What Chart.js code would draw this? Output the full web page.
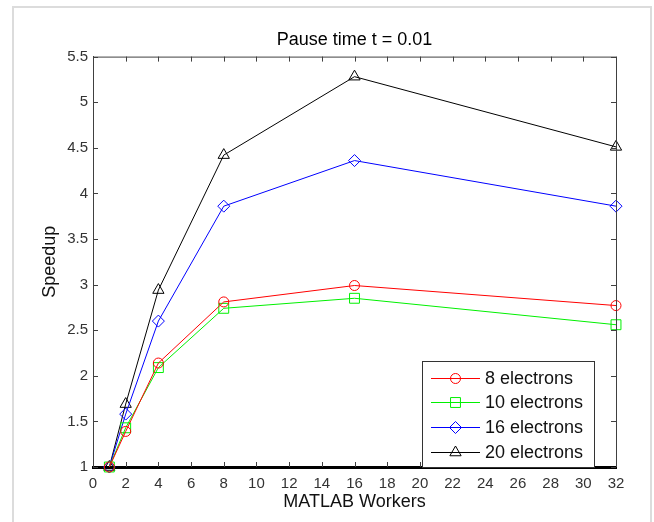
<!DOCTYPE html>
<html>
<head>
<meta charset="utf-8">
<script src="https://cdn.jsdelivr.net/npm/chart.js@4"></script>
<style>
    body { margin: 0; background: #fff; overflow: hidden; }
    #frame {
        position: absolute; left: 12px; top: 6px;
        width: 636px; height: 600px;
        border: 2px solid #dcdcdc;
    }
    #speedup { position: absolute; left: 0; top: 0; }
</style>
</head>
<body>
<div id="frame"></div>
<canvas id="speedup" width="654" height="522"></canvas>
<script>
const workers = [1, 2, 4, 8, 16, 32];
const electrons8 = [1, 1.39, 2.14, 2.81, 2.99, 2.77];
const electrons10 = [1, 1.43, 2.09, 2.74, 2.85, 2.56];
const electrons16 = [1, 1.58, 2.6, 3.86, 4.36, 3.86];
const electrons20 = [1, 1.69, 2.94, 4.42, 5.28, 4.51];
const seriesLabels = ['8 electrons', '10 electrons', '16 electrons', '20 electrons'];

const FONT = '"Liberation Sans", Arial, sans-serif';

function toPoints(values) {
    return workers.map((w, i) => ({ x: w, y: values[i] }));
}

function series(label, values, color, style, radius) {
    return {
        label: label,
        data: toPoints(values),
        borderColor: color,
        borderWidth: 1,
        pointStyle: style,
        pointRadius: radius,
        pointBorderColor: color,
        pointBackgroundColor: 'rgba(0,0,0,0)',
        pointBorderWidth: 1,
        tension: 0,
        clip: false
    };
}

// matlab style box: frame lines + ticks pointing inwards
const boxPlugin = {
    id: 'matlabBox',
    afterDatasetsDraw(chart) {
        const { ctx, chartArea: a, scales } = chart;
        ctx.save();
        ctx.strokeStyle = '#404040';
        ctx.lineWidth = 1;
        ctx.beginPath();
        ctx.moveTo(a.left, a.top + 0.5);
        ctx.lineTo(a.right + 0.5, a.top + 0.5);
        ctx.lineTo(a.right + 0.5, a.bottom);
        ctx.stroke();

        const len = 5;
        ctx.beginPath();
        scales.x.ticks.forEach(t => {
            const px = Math.round(scales.x.getPixelForValue(t.value)) + 0.5;
            ctx.moveTo(px, a.bottom);
            ctx.lineTo(px, a.bottom - len);
            ctx.moveTo(px, a.top);
            ctx.lineTo(px, a.top + len);
        });
        scales.y.ticks.forEach(t => {
            const py = Math.round(scales.y.getPixelForValue(t.value)) + 0.5;
            ctx.moveTo(a.left, py);
            ctx.lineTo(a.left + len, py);
            ctx.moveTo(a.right, py);
            ctx.lineTo(a.right - len, py);
        });
        ctx.stroke();
        ctx.restore();
    },
    afterDraw(chart) {
        // legend box in the lower right corner of the axes
        const { ctx, chartArea: a } = chart;
        const w = 172, h = 106;
        const left = a.right - 22 - w;
        const top = a.bottom - h;
        ctx.save();
        ctx.fillStyle = '#fff';
        ctx.fillRect(left, top, w, h);
        ctx.strokeStyle = '#333';
        ctx.lineWidth = 1;
        ctx.strokeRect(left + 0.5, top + 0.5, w, h);
        ctx.font = '18px ' + FONT;
        ctx.textBaseline = 'middle';
        chart.data.datasets.forEach((ds, i) => {
            const y = Math.round(top + 16.5 + i * 24.7) + 0.5;
            ctx.strokeStyle = ds.borderColor;
            ctx.beginPath();
            ctx.moveTo(left + 9, y);
            ctx.lineTo(left + 58, y);
            ctx.stroke();
            ctx.fillStyle = 'rgba(0,0,0,0)';
            Chart.helpers.drawPoint(ctx, {
                pointStyle: ds.pointStyle,
                radius: ds.pointRadius,
                borderWidth: 1,
                rotation: 0
            }, left + 33.5, y);
            ctx.fillStyle = '#111';
            ctx.fillText(ds.label, left + 63, y + 1);
        });
        ctx.restore();
    }
};

new Chart(document.getElementById('speedup'), {
    type: 'line',
    data: {
        datasets: [
            series(seriesLabels[0], electrons8, '#ff0000', 'circle', 5),
            series(seriesLabels[1], electrons10, '#00f000', 'rect', 7),
            series(seriesLabels[2], electrons16, '#0000ff', 'rectRot', 6),
            series(seriesLabels[3], electrons20, '#000000', 'triangle', 6.5)
        ]
    },
    options: {
        responsive: false,
        animation: false,
        layout: { padding: { left: 0, right: 38, top: 0, bottom: 0 } },
        plugins: {
            legend: { display: false },
            tooltip: { enabled: false },
            title: {
                display: true,
                fullSize: false,
                text: 'Pause time t = 0.01',
                color: '#000',
                font: { family: FONT, size: 18, weight: 'normal' },
                padding: { top: 29, bottom: 6 }
            }
        },
        scales: {
            x: {
                type: 'linear',
                min: 0,
                max: 32,
                grid: { display: false, drawTicks: false },
                border: { display: true, color: '#000', width: 3 },
                ticks: {
                    stepSize: 2,
                    padding: 8,
                    color: '#333',
                    font: { family: FONT, size: 15 }
                },
                title: {
                    display: true,
                    text: 'MATLAB Workers',
                    color: '#111',
                    font: { family: FONT, size: 18 },
                    padding: { top: 0, bottom: 9 }
                },
                afterFit(scale) { scale.height = 55; }
            },
            y: {
                type: 'linear',
                min: 1,
                max: 5.5,
                grid: { display: false, drawTicks: false },
                border: { display: true, color: '#404040', width: 1 },
                ticks: {
                    stepSize: 0.5,
                    padding: 5,
                    color: '#333',
                    font: { family: FONT, size: 15 },
                    callback: v => String(v)
                },
                title: {
                    display: true,
                    text: 'Speedup',
                    color: '#111',
                    font: { family: FONT, size: 18 },
                    padding: { top: 39, bottom: 0 }
                },
                afterFit(scale) { scale.width = 93; }
            }
        }
    },
    plugins: [boxPlugin]
});
</script>
</body>
</html>
